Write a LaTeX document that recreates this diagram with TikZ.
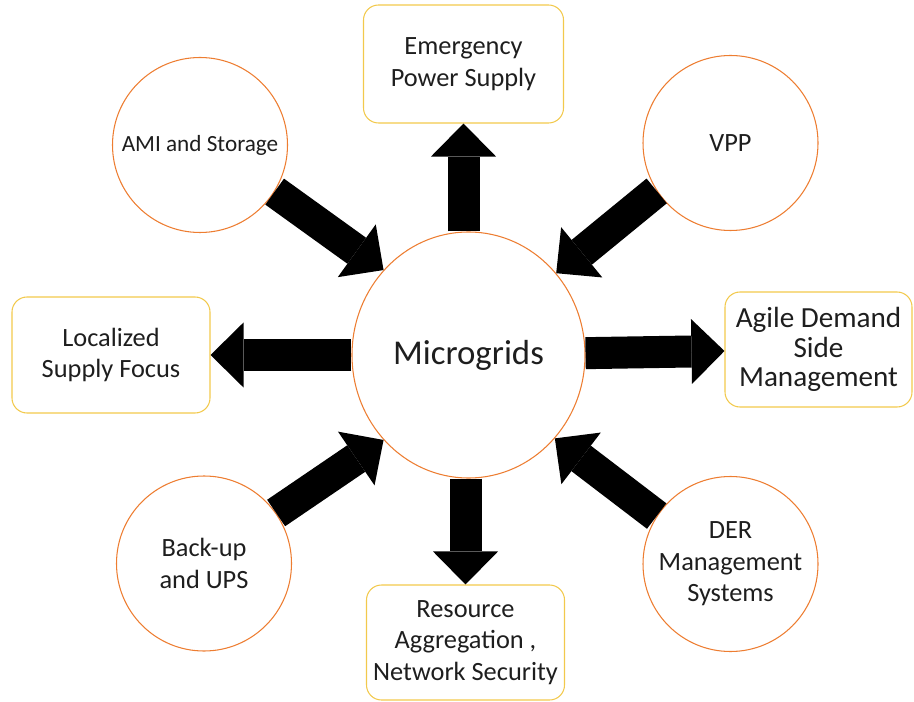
\documentclass[tikz,border=0pt]{standalone}
\usepackage{fontspec}
\setmainfont{Carlito}
\usetikzlibrary{arrows.meta,positioning,shapes.geometric}

\definecolor{ringorange}{HTML}{ED7D31}
\definecolor{boxgold}{HTML}{F2C94C}
\definecolor{inktext}{HTML}{1E1E1E}

\begin{document}
\begin{tikzpicture}[on grid, text=inktext,
        hub/.style={ellipse, draw=ringorange, line width=0.6pt, fill=white, inner sep=0pt,
            minimum width=4.66cm, minimum height=4.92cm, font=\fontsize{19.8pt}{22pt}\selectfont},
        spoke/.style={circle, draw=ringorange, line width=0.6pt, inner sep=0pt, minimum size=3.5cm,
            align=center, font=\fontsize{15pt}{18pt}\selectfont},
        goal/.style={rectangle, rounded corners=0.3cm, draw=boxgold, line width=0.6pt, inner sep=0pt,
            minimum width=3.96cm, minimum height=2.32cm, align=center, font=\fontsize{15pt}{18pt}\selectfont},
        bigarrow/.style={draw=black, line width=0.64cm,
            -{Triangle[width=1.3cm, length=0.66cm, line width=0pt]}}]
        \useasboundingbox (0,0) rectangle (18.28,-14.04);

        \node[hub] (mg) at (9.37,-7.10) {Microgrids};

        \node[goal, minimum width=4cm, minimum height=2.36cm, above=5.82cm of mg, xshift=-0.1cm] (eps) {Emergency\\Power Supply};
        \node[goal, below=5.75cm of mg, xshift=-0.06cm, minimum height=2.3cm] (rag) {Resource\\Aggregation ,\\Network Security};
        \node[goal, left=7.15cm of mg] (lsf) {Localized\\Supply Focus};
        \node[goal, right=7cm of mg, yshift=0.11cm, minimum width=3.74cm, minimum height=2.3cm,
            font=\fontsize{16.6pt}{17pt}\selectfont] (adm) {Agile Demand\\Side\\Management};

        \node[spoke, above left=4.2cm and 5.37cm of mg, font=\fontsize{13.2pt}{16pt}\selectfont] (ami) {AMI and Storage};
        \node[spoke, above right=4.24cm and 5.24cm of mg] (vpp) {VPP};
        \node[spoke, below left=4.17cm and 5.29cm of mg] (bup) {Back-up\\and UPS};
        \node[spoke, below right=4.18cm and 5.24cm of mg] (der) {DER\\Management\\Systems};

        \path (mg.north -| eps) edge[bigarrow] (eps);
        \path (mg.south -| rag) edge[bigarrow] (rag);
        \path (mg) edge[bigarrow] (lsf);
        \path (mg) edge[bigarrow] (adm);
        \path (ami.-32) edge[bigarrow] (mg.135);
        \path (vpp.213) edge[bigarrow] (mg.43);
        \path (bup.35) edge[bigarrow] (mg.225);
        \path (der.147) edge[bigarrow] (mg.-44);
    \end{tikzpicture}
\end{document}
